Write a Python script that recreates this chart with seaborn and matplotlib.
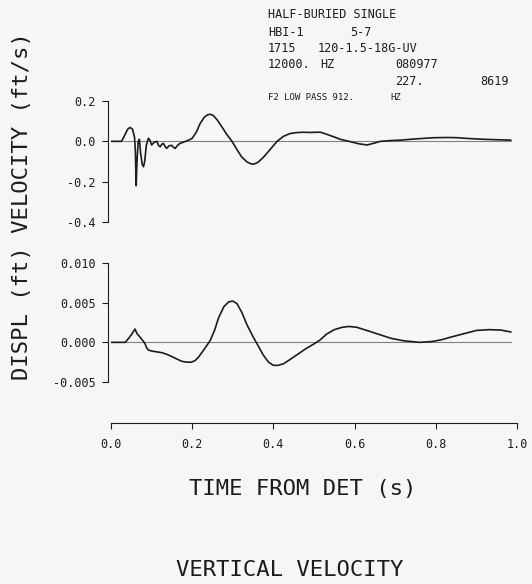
import matplotlib
matplotlib.use("Agg")
import matplotlib.pyplot as plt
import pandas as pd
import seaborn as sns

# ---------------- data ----------------
time_vel = [0.000, 0.026, 0.035, 0.041, 0.047, 0.053, 0.058, 0.060, 0.062, 0.064,
            0.067, 0.070, 0.073, 0.077, 0.080, 0.083, 0.087, 0.092, 0.096, 0.100,
            0.106, 0.113, 0.117, 0.121, 0.125, 0.129, 0.133, 0.137, 0.143, 0.150,
            0.154, 0.158, 0.164, 0.170, 0.180, 0.190, 0.200, 0.210, 0.220, 0.230,
            0.238, 0.245, 0.252, 0.262, 0.272, 0.285, 0.298, 0.310, 0.322, 0.335,
            0.345, 0.352, 0.362, 0.375, 0.390, 0.409, 0.425, 0.440, 0.455, 0.470,
            0.490, 0.505, 0.516, 0.530, 0.548, 0.565, 0.590, 0.610, 0.631, 0.650,
            0.664, 0.690, 0.714, 0.750, 0.796, 0.830, 0.853, 0.880, 0.919, 0.950,
            0.985]
velocity = [0.0, 0.0, 0.035, 0.060, 0.069, 0.060, 0.020, -0.05, -0.22, -0.10,
            0.0, 0.01, -0.06, -0.115, -0.126, -0.10, -0.02, 0.015, 0.005, -0.018,
            -0.005, 0.0, -0.02, -0.027, -0.015, -0.01, -0.025, -0.035, -0.022, -0.02,
            -0.03, -0.035, -0.02, -0.01, -0.003, 0.005, 0.015, 0.045, 0.090, 0.120,
            0.132, 0.134, 0.128, 0.105, 0.075, 0.035, 0.0, -0.040, -0.078, -0.102,
            -0.112, -0.113, -0.104, -0.080, -0.045, 0.0, 0.025, 0.038, 0.043, 0.045,
            0.044, 0.045, 0.045, 0.036, 0.023, 0.010, -0.002, -0.012, -0.018, -0.008,
            0.0, 0.004, 0.006, 0.012, 0.018, 0.019, 0.018, 0.014, 0.010, 0.008,
            0.006]

time_disp = [0.000, 0.035, 0.045, 0.052, 0.059, 0.064, 0.069, 0.074, 0.080, 0.084,
             0.088, 0.092, 0.100, 0.113, 0.125, 0.137, 0.150, 0.162, 0.175, 0.187,
             0.198, 0.207, 0.215, 0.225, 0.236, 0.244, 0.255, 0.265, 0.278, 0.290,
             0.300, 0.310, 0.322, 0.335, 0.350, 0.362, 0.375, 0.388, 0.400, 0.412,
             0.425, 0.440, 0.460, 0.480, 0.500, 0.515, 0.530, 0.550, 0.570, 0.586,
             0.605, 0.630, 0.660, 0.690, 0.720, 0.760, 0.790, 0.812, 0.840, 0.870,
             0.900, 0.930, 0.960, 0.985]
displacement = [0.0, 0.0, 0.0006, 0.0011, 0.00168, 0.0011, 0.0008, 0.0005, 0.0001, -0.0002,
                -0.0007, -0.00097, -0.0011, -0.0012, -0.0013, -0.0015, -0.0018, -0.0021, -0.0024, -0.0025,
                -0.0025, -0.0023, -0.0019, -0.0012, -0.0004, 0.0002, 0.0015, 0.0031, 0.0045, 0.0051,
                0.0052, 0.0049, 0.0038, 0.0022, 0.0007, -0.0004, -0.0016, -0.0025, -0.0029, -0.0029,
                -0.0027, -0.0022, -0.0015, -0.0008, -0.0002, 0.0003, 0.0010, 0.0016, 0.0019, 0.0020,
                0.0019, 0.0015, 0.0010, 0.0005, 0.0002, 0.0, 0.0001, 0.0003, 0.0007, 0.0011,
                0.0015, 0.0016, 0.00155, 0.0013]

x_ticks = [0.0, 0.2, 0.4, 0.6, 0.8, 1.0]
x_tick_labels = ["0.0", "0.2", "0.4", "0.6", "0.8", "1.0"]
vel_ticks = [-0.4, -0.2, 0.0, 0.2]
vel_tick_labels = ["-0.4", "-0.2", "0.0", "0.2"]
disp_ticks = [-0.005, 0.0, 0.005, 0.010]
disp_tick_labels = ["-0.005", "0.000", "0.005", "0.010"]

header_texts = ["HALF-BURIED SINGLE", "HBI-1", "5-7", "1715", "120-1.5-18G-UV",
                "12000.", "HZ", "080977", "227.", "8619", "F2 LOW PASS 912.", "HZ"]
x_label = "TIME FROM DET (s)"
y_label = "DISPL (ft) VELOCITY (ft/s)"
title = "VERTICAL VELOCITY"

# ---------------- style ----------------
sns.set_theme(style="ticks")
plt.rcParams['font.family'] = ['DejaVu Sans Mono', 'DejaVu Sans']
ink = "#1c1c1c"
paper = "#f6f6f4"

W, H = 532, 584
fig = plt.figure(figsize=(W / 100, H / 100), dpi=100, facecolor=paper)

def rect(x0, y0, x1, y1):
    return [x0 / W, 1 - y1 / H, (x1 - x0) / W, (y1 - y0) / H]

ax1 = fig.add_axes(rect(111, 101, 517, 222))
ax2 = fig.add_axes(rect(111, 263, 517, 382))

df_v = pd.DataFrame({"t": time_vel, "v": velocity})
df_d = pd.DataFrame({"t": time_disp, "d": displacement})

for ax in (ax1, ax2):
    ax.set_facecolor(paper)
    ax.axhline(0, xmin=0, xmax=0.985, color="#808080", lw=0.8, zorder=1)

sns.lineplot(data=df_v, x="t", y="v", ax=ax1, color=ink, lw=1.2, zorder=3)
sns.lineplot(data=df_d, x="t", y="d", ax=ax2, color=ink, lw=1.2, zorder=3)

ax1.set_xlim(0, 1.0)
ax2.set_xlim(0, 1.0)
ax1.set_ylim(-0.4, 0.2)
ax2.set_ylim(-0.005, 0.010)

ax1.set_yticks(vel_ticks)
ax1.set_yticklabels(vel_tick_labels)
ax2.set_yticks(disp_ticks)
ax2.set_yticklabels(disp_tick_labels)
ax1.set_xticks([])
ax2.set_xticks(x_ticks)
ax2.set_xticklabels(x_tick_labels)

for ax in (ax1, ax2):
    ax.set_xlabel("")
    ax.set_ylabel("")
    ax.tick_params(axis="both", direction="out", length=4, width=0.8,
                   colors=ink, labelsize=8.5, labelcolor=ink)
    ax.tick_params(axis="y", pad=5)
    ax.tick_params(axis="x", pad=7)

sns.despine(ax=ax1, bottom=True, offset={"left": 2})
sns.despine(ax=ax2, offset={"left": 2, "bottom": 29.5})
ax1.spines["left"].set_bounds(-0.4, 0.2)
ax2.spines["left"].set_bounds(-0.005, 0.010)
ax2.spines["bottom"].set_bounds(0.0, 1.0)
for ax in (ax1, ax2):
    for s in ax.spines.values():
        s.set_color(ink)
        s.set_linewidth(0.8)

# ---------------- texts ----------------
def ftext(x, y, s, **kw):
    fig.text(x / W, 1 - y / H, s, color=ink, **kw)

hdr = dict(fontsize=8.5, ha="left", va="center")
ftext(268, 15, header_texts[0], **hdr)
ftext(268, 32, header_texts[1], **hdr)
ftext(350, 32, header_texts[2], **hdr)
ftext(268, 48, header_texts[3], **hdr)
ftext(318, 48, header_texts[4], **hdr)
ftext(268, 64, header_texts[5], **hdr)
ftext(320, 64, header_texts[6], **hdr)
ftext(395, 64, header_texts[7], **hdr)
ftext(395, 81, header_texts[8], **hdr)
ftext(480, 81, header_texts[9], **hdr)
ftext(268, 98, header_texts[10], fontsize=6.5, ha="left", va="center")
ftext(390, 98, header_texts[11], fontsize=6.5, ha="left", va="center")

ftext(303, 489, x_label, fontsize=16, ha="center", va="center")
ftext(22, 206, y_label, fontsize=16, ha="center", va="center", rotation=90)
ftext(290, 570, title, fontsize=16, ha="center", va="center")

fig.savefig("out.png", dpi=100, facecolor=paper)
